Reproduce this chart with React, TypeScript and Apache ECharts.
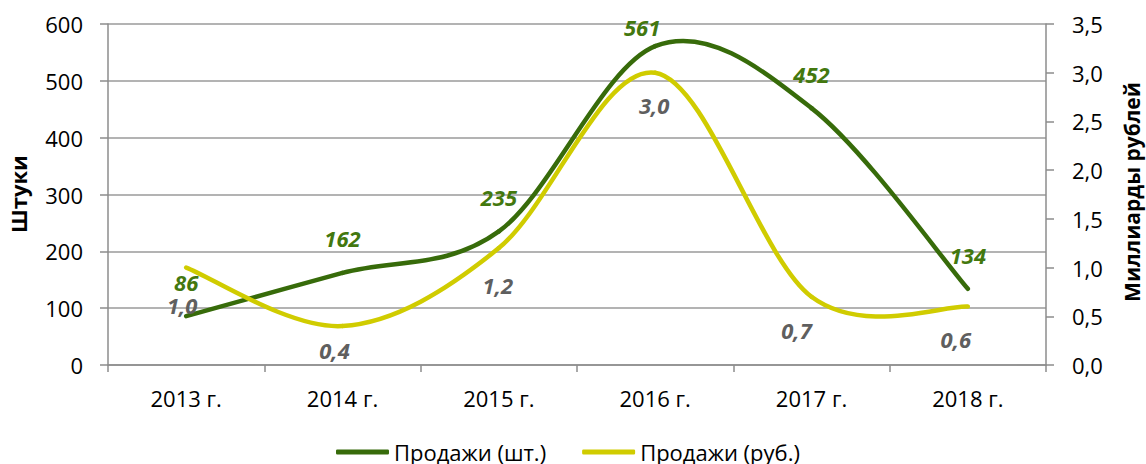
import React, { useEffect, useRef } from "react";
import * as echarts from "echarts";

const categories = ["2013 г.", "2014 г.", "2015 г.", "2016 г.", "2017 г.", "2018 г."];
const unitsSold = [86, 162, 235, 561, 452, 134];
const rublesBn = [1.0, 0.4, 1.2, 3.0, 0.7, 0.6];
const leftTicks = { min: 0, max: 600, interval: 100 };
const rightTicks = { min: 0, max: 3.5, interval: 0.5 };
const seriesNames = ["Продажи (шт.)", "Продажи (руб.)"];
const axisTitles = ["Штуки", "Миллиарды рублей"];

// label placement tweaks in pixels (style only)
const unitsLabelDy = [-34, -35, -34, -19, -34, -34];
const unitsLabelDx = [0, 0, 0, -13, 0, 0];
const rublesLabelDy = [37, 24, 37, 32, 33, 32];
const rublesLabelDx = [-4, -8, -1, -1, -15, -12];

const FONT = "'Open Sans', sans-serif";
const GREEN = "#376b0a";
const YELLOW = "#d0cc00";
const AXIS = "#8c8c8c";
const GRID = "#9a9a9a";

const comma = (v: number) => v.toFixed(1).replace(".", ",");

// Excel-like smooth curve (Catmull-Rom, tension 1/6) drawn through the axis scales
function makeRenderItem(values: number[], color: string) {
  return (params: any, api: any) => {
    const i = params.dataIndex;
    const n = values.length;
    const pts = values.map((v, j) => api.coord([j, v]));
    const children: any[] = [];
    if (i < n - 1) {
      const p0 = pts[Math.max(i - 1, 0)];
      const p1 = pts[i];
      const p2 = pts[i + 1];
      const p3 = pts[Math.min(i + 2, n - 1)];
      children.push({
        type: "bezierCurve",
        shape: {
          x1: p1[0],
          y1: p1[1],
          cpx1: p1[0] + (p2[0] - p0[0]) / 6,
          cpy1: p1[1] + (p2[1] - p0[1]) / 6,
          cpx2: p2[0] - (p3[0] - p1[0]) / 6,
          cpy2: p2[1] - (p3[1] - p1[1]) / 6,
          x2: p2[0],
          y2: p2[1],
        },
        style: { stroke: color, lineWidth: 4.5, fill: "none", lineCap: "round" },
      });
    }
    return { type: "group", children };
  };
}

function makeLabelRenderItem(
  values: number[],
  labelColor: string,
  fmt: (v: number) => string,
  dxs: number[],
  dys: number[]
) {
  return (params: any, api: any) => {
    const i = params.dataIndex;
    const p = api.coord([i, values[i]]);
    return {
      type: "text",
      x: p[0] + dxs[i],
      y: p[1] + dys[i],
      style: {
        text: fmt(values[i]),
        fontFamily: FONT,
        fontSize: 22,
        fontWeight: "bold",
        fontStyle: "italic",
        fill: labelColor,
        textAlign: "center",
        textVerticalAlign: "middle",
      },
    };
  };
}

export default function App() {
  const ref = useRef<HTMLDivElement>(null);
  useEffect(() => {
    if (!ref.current) return;
    const chart = echarts.init(ref.current, undefined, { renderer: "svg" });
    const option: any = {
      animation: false,
      backgroundColor: "#ffffff",
      textStyle: { fontFamily: FONT },
      grid: { left: 108, right: 100, top: 24, bottom: 99, containLabel: false },
      legend: {
        left: 336,
        top: 441,
        padding: 0,
        itemWidth: 53,
        itemHeight: 5,
        itemGap: 36,
        icon: "roundRect",
        textStyle: { fontFamily: FONT, fontSize: 22, color: "#000", lineHeight: 22 },
        data: [
          { name: seriesNames[0], itemStyle: { color: GREEN } },
          { name: seriesNames[1], itemStyle: { color: YELLOW } },
        ],
      },
      xAxis: {
        type: "category",
        data: categories,
        boundaryGap: true,
        axisLine: { show: true, lineStyle: { color: AXIS, width: 1.5 } },
        axisTick: { show: true, interval: 0, length: 7, lineStyle: { color: AXIS, width: 1.5 } },
        axisLabel: { fontFamily: FONT, fontSize: 22, color: "#000", margin: 22 },
        splitLine: { show: false },
      },
      yAxis: [
        {
          type: "value",
          min: leftTicks.min,
          max: leftTicks.max,
          interval: leftTicks.interval,
          axisLine: { show: true, lineStyle: { color: AXIS, width: 1.5 } },
          axisTick: { show: true, length: 8, lineStyle: { color: AXIS, width: 1.5 } },
          axisLabel: { fontFamily: FONT, fontSize: 22, color: "#000", margin: 25 },
          splitLine: { show: true, lineStyle: { color: GRID, width: 1.5 } },
        },
        {
          type: "value",
          position: "right",
          min: rightTicks.min,
          max: rightTicks.max,
          interval: rightTicks.interval,
          axisLine: { show: true, lineStyle: { color: AXIS, width: 1.5 } },
          axisTick: { show: true, length: 8, lineStyle: { color: AXIS, width: 1.5 } },
          axisLabel: { fontFamily: FONT, fontSize: 22, color: "#000", margin: 26, formatter: comma },
          splitLine: { show: false },
        },
      ],
      graphic: [
        {
          type: "text",
          x: 18,
          y: 194,
          rotation: Math.PI / 2,
          style: {
            text: axisTitles[0],
            fontFamily: FONT,
            fontSize: 22,
            fontWeight: "bold",
            fill: "#000",
            textAlign: "center",
            textVerticalAlign: "middle",
          },
        },
        {
          type: "text",
          x: 1132,
          y: 192,
          rotation: Math.PI / 2,
          style: {
            text: axisTitles[1],
            fontFamily: FONT,
            fontSize: 21,
            fontWeight: "bold",
            fill: "#000",
            textAlign: "center",
            textVerticalAlign: "middle",
          },
        },
      ],
      series: [
        {
          name: seriesNames[0],
          type: "custom",
          yAxisIndex: 0,
          itemStyle: { color: GREEN },
          renderItem: makeRenderItem(unitsSold, GREEN),
          data: unitsSold.map((v, i) => [i, v]),
          z: 2,
        },
        {
          name: seriesNames[1],
          type: "custom",
          yAxisIndex: 1,
          itemStyle: { color: YELLOW },
          renderItem: makeRenderItem(rublesBn, YELLOW),
          data: rublesBn.map((v, i) => [i, v]),
          z: 3,
        },
        {
          name: "labels-units",
          type: "custom",
          yAxisIndex: 0,
          renderItem: makeLabelRenderItem(unitsSold, "#43780f", (v) => String(v), unitsLabelDx, unitsLabelDy),
          data: unitsSold.map((v, i) => [i, v]),
          z: 4,
        },
        {
          name: "labels-rubles",
          type: "custom",
          yAxisIndex: 1,
          renderItem: makeLabelRenderItem(rublesBn, "#5f5f5f", comma, rublesLabelDx, rublesLabelDy),
          data: rublesBn.map((v, i) => [i, v]),
          z: 4,
        },
      ],
    };
    chart.setOption(option);
    return () => chart.dispose();
  }, []);
  return (
    <div
      ref={ref}
      style={{ position: "fixed", left: 0, top: 0, width: 1146, height: 464 }}
    />
  );
}
